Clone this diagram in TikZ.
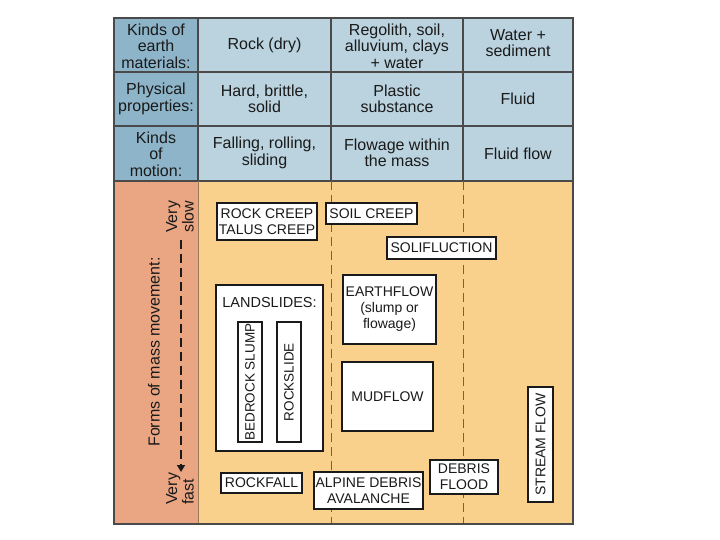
\documentclass[tikz,border=0pt]{standalone}
\usepackage{fontspec}
\setmainfont{Liberation Sans}
\usetikzlibrary{arrows.meta}
\definecolor{hdark}{HTML}{8DB4C8}
\definecolor{hlight}{HTML}{BAD3DF}
\definecolor{salmon}{HTML}{EAA683}
\definecolor{sand}{HTML}{F9D18C}
\definecolor{gridc}{HTML}{4A4A4A}
\definecolor{brownc}{HTML}{9A7A55}
\definecolor{dashc}{HTML}{6E6250}
\definecolor{inkc}{HTML}{1A1A1A}
\begin{document}
\begin{tikzpicture}[x=1pt,y=-1pt,
  hdr/.style={align=center, font=\fontsize{16}{16.5}\selectfont, inner sep=0pt, text=inkc},
  mbox/.style={draw=inkc, fill=white, line width=1.1pt, align=center, inner sep=0pt,
    font=\fontsize{14}{16}\selectfont, text=inkc},
  colline/.style={dashc, line width=0.9pt, dash pattern=on 9pt off 5pt},
  gridline/.style={gridc, line width=1.3pt}
]
\useasboundingbox (0,0) rectangle (720,540);
\fill[white] (0,0) rectangle (720,540);
% backgrounds
\fill[hdark] (114,18) rectangle (198,181);
\fill[hlight] (198,18) rectangle (573,181);
\fill[salmon] (114,181) rectangle (198,524);
\fill[sand] (198,181) rectangle (573,524);
% grid
\draw[gridline] (114,72) -- (573,72);
\draw[gridline] (114,126) -- (573,126);
\draw[gridline] (114,181) -- (573,181);
\draw[gridline] (198,18) -- (198,181);
\draw[gridline] (331,18) -- (331,181);
\draw[gridline] (463,18) -- (463,181);
\draw[brownc, line width=1pt] (198,181) -- (198,524);
\draw[colline] (331,181) -- (331,524);
\draw[colline] (463,181) -- (463,524);
\draw[gridc, line width=1.6pt] (114,18) rectangle (573,524);
% header texts
\node[hdr] (h11) at (156,46) {Kinds of\\earth\\materials:};
\node[hdr] (h12) at (264.5,45) {Rock (dry)};
\node[hdr] (h13) at (397,46) {Regolith, soil,\\alluvium, clays\\+ water};
\node[hdr] (h14) at (518,43) {Water +\\sediment};
\node[hdr] (h21) at (156,99) {Physical\\properties:};
\node[hdr] (h22) at (264.5,99) {Hard, brittle,\\solid};
\node[hdr] (h23) at (397,99) {Plastic\\substance};
\node[hdr] (h24) at (518,99) {Fluid};
\node[hdr] (h31) at (156,154) {Kinds\\of\\motion:};
\node[hdr] (h32) at (264.5,153) {Falling, rolling,\\sliding};
\node[hdr] (h33) at (397,153) {Flowage within\\the mass};
\node[hdr] (h34) at (518,154) {Fluid flow};
% left column
\node[hdr, rotate=90] (forms) at (154,352) {Forms of mass movement:};
\node[hdr, rotate=90, anchor=west, align=left] (vslow) at (180,233) {Very\\slow};
\node[hdr, rotate=90, anchor=west, align=left] (vfast) at (180,505) {Very\\fast};
\coordinate (arrs) at (181,240);
\coordinate (arre) at (181,472);
\draw[inkc, line width=2.6pt, dash pattern=on 9pt off 5pt,
  -{Triangle[length=7pt,width=8pt]}] (arrs) -- (arre);
% boxes
\node[mbox, minimum width=100pt, minimum height=37pt] (rc) at (267,221.5) {ROCK CREEP\\TALUS CREEP};
\node[mbox, minimum width=91pt, minimum height=21pt] (sc) at (371.5,213.5) {SOIL CREEP};
\node[mbox, minimum width=109pt, minimum height=22pt] (sol) at (441.5,248) {SOLIFLUCTION};
\node[mbox, minimum width=93pt, minimum height=69pt] (ef) at (389.5,309.5) {EARTHFLOW\\(slump or\\flowage)};
\node[mbox, minimum width=107pt, minimum height=166pt] (ls) at (269.5,368) {};
\node[hdr, font=\fontsize{14.5}{16}\selectfont] (lst) at (269.5,303) {LANDSLIDES:};
\node[mbox, rotate=90, minimum width=120pt, minimum height=24pt, font=\fontsize{13.5}{16}\selectfont] (bs) at (250,382) {BEDROCK SLUMP};
\node[mbox, rotate=90, minimum width=120pt, minimum height=24pt, font=\fontsize{13.5}{16}\selectfont] (rs) at (289,382) {ROCKSLIDE};
\node[mbox, minimum width=91pt, minimum height=69pt] (mf) at (387.5,396.5) {MUDFLOW};
\node[mbox, minimum width=81pt, minimum height=20pt] (rf) at (261.5,483) {ROCKFALL};
\node[mbox, minimum width=109pt, minimum height=37pt] (ada) at (368.5,490.5) {ALPINE DEBRIS\\AVALANCHE};
\node[mbox, minimum width=68pt, minimum height=34pt] (df) at (464,477) {DEBRIS\\FLOOD};
\node[mbox, rotate=90, minimum width=115pt, minimum height=25pt] (sf) at (540.5,444.5) {STREAM FLOW};
\end{tikzpicture}
\end{document}
